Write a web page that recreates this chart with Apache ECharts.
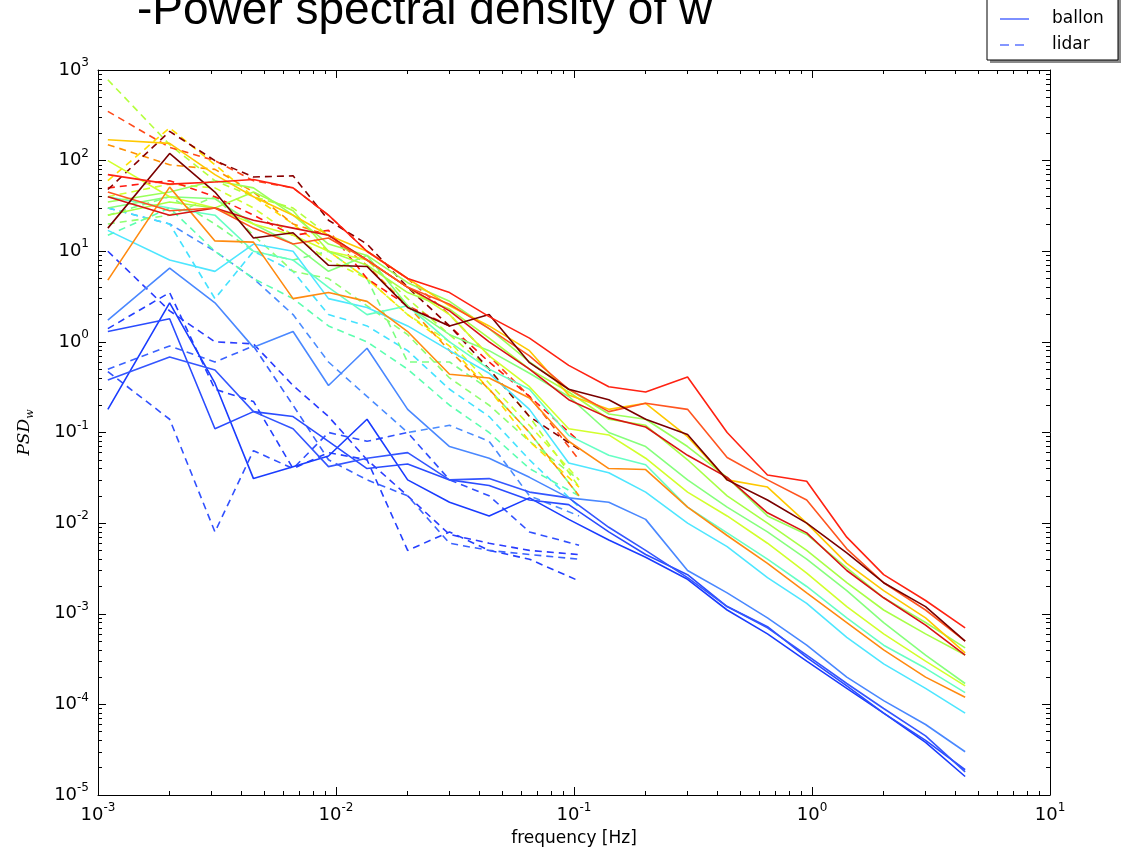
<!DOCTYPE html>
<html><head><meta charset="utf-8">
<script src="https://cdn.jsdelivr.net/npm/echarts@6/dist/echarts.min.js"></script>
<style>html,body{margin:0;padding:0;background:#fff}#c{width:1132px;height:853px}</style>
</head><body><div id="c"></div>
<script>
// ---------- frequencies ----------
const balloonFreq = [0.0011, 0.002, 0.0031, 0.0045, 0.0066, 0.0093, 0.0135, 0.02, 0.03, 0.044, 0.065, 0.095, 0.14, 0.2, 0.3, 0.44, 0.65, 0.95, 1.4, 2.0, 3.0, 4.4];
const lidarFreq = [0.0011, 0.002, 0.0031, 0.0045, 0.0066, 0.0093, 0.0135, 0.02, 0.03, 0.044, 0.065, 0.105];

// ---------- balloon PSD (solid) ----------
const bRed      = [70, 55, 58, 62, 50, 25, 10, 5, 3.5, 1.9, 1.1, 0.55, 0.32, 0.28, 0.41, 0.1, 0.034, 0.029, 0.007, 0.0027, 0.0014, 0.0007];
const bOrangeRed= [45, 28, 30, 18, 12, 14, 8, 4, 2.6, 1.4, 0.7, 0.3, 0.17, 0.21, 0.18, 0.053, 0.03, 0.018, 0.0052, 0.0022, 0.0011, 0.0005];
const bDarkRed  = [18, 120, 45, 14, 16, 7, 6.8, 2.4, 1.5, 2.0, 0.59, 0.3, 0.23, 0.14, 0.095, 0.030, 0.018, 0.01, 0.0047, 0.0022, 0.0012, 0.0005];
const bCrimson  = [40, 25, 30, 22, 18, 15, 8, 4, 2.2, 1.0, 0.5, 0.23, 0.145, 0.115, 0.056, 0.032, 0.013, 0.0078, 0.003, 0.0015, 0.00075, 0.00035];
const bYellow   = [170, 155, 70, 40, 25, 15, 10, 5, 2.5, 1.5, 0.8, 0.26, 0.18, 0.21, 0.09, 0.03, 0.025, 0.01, 0.0036, 0.0018, 0.0009, 0.00037];
const bOrange   = [4.8, 51, 13, 12.6, 3.0, 3.5, 2.8, 1.3, 0.44, 0.40, 0.24, 0.08, 0.04, 0.039, 0.015, 0.0073, 0.0036, 0.0017, 0.0008, 0.0004, 0.0002, 0.00012];
const bYGreen   = [100, 40, 30, 20, 15, 10, 8, 4, 2, 0.7, 0.32, 0.11, 0.094, 0.052, 0.022, 0.012, 0.006, 0.0028, 0.0012, 0.0006, 0.0003, 0.00016];
const bGreen1   = [35, 45, 60, 50, 25, 12, 9, 4.5, 2.8, 1.4, 0.6, 0.3, 0.16, 0.14, 0.07, 0.032, 0.012, 0.0075, 0.0032, 0.0015, 0.0008, 0.00042];
const bGreen2   = [25, 35, 30, 45, 28, 10, 7, 3.5, 2.3, 1.1, 0.5, 0.28, 0.14, 0.12, 0.05, 0.02, 0.01, 0.005, 0.0022, 0.0011, 0.0006, 0.00035];
const bGreen3   = [30, 40, 38, 20, 12, 6, 9, 2.5, 1.2, 0.8, 0.45, 0.25, 0.1, 0.07, 0.03, 0.015, 0.008, 0.004, 0.0018, 0.0008, 0.00035, 0.00017];
const bAqua     = [40, 30, 25, 10, 8, 4, 2, 2.5, 1.0, 0.5, 0.3, 0.093, 0.056, 0.044, 0.015, 0.0078, 0.004, 0.002, 0.0009, 0.00045, 0.00025, 0.000135];
const bCyan     = [17, 8, 6, 12, 10, 3, 2.4, 1.5, 0.8, 0.45, 0.18, 0.046, 0.036, 0.022, 0.01, 0.0055, 0.0025, 0.0013, 0.00055, 0.00028, 0.00015, 0.00008];
const bLightBlue= [1.74, 6.5, 2.7, 0.87, 1.3, 0.33, 0.85, 0.18, 0.07, 0.052, 0.032, 0.019, 0.017, 0.011, 0.003, 0.0017, 0.0009, 0.00045, 0.0002, 0.00011, 0.00006, 0.00003];
const bBlue1    = [0.18, 2.7, 0.35, 0.031, 0.042, 0.055, 0.14, 0.03, 0.017, 0.012, 0.019, 0.011, 0.0065, 0.0042, 0.0024, 0.0011, 0.0006, 0.0003, 0.00015, 0.00008, 0.000038, 0.000016];
const bBlue2    = [1.3, 1.8, 0.11, 0.17, 0.15, 0.08, 0.04, 0.045, 0.03, 0.026, 0.018, 0.016, 0.008, 0.0045, 0.0027, 0.0012, 0.00072, 0.00033, 0.00016, 0.00008, 0.00004, 0.000019];
const bBlue3    = [0.38, 0.68, 0.49, 0.17, 0.11, 0.042, 0.052, 0.06, 0.03, 0.031, 0.022, 0.019, 0.009, 0.005, 0.0025, 0.0012, 0.0007, 0.00035, 0.00017, 0.00009, 0.000045, 0.000018];

// ---------- lidar PSD (dashed) ----------
const lLime      = [780, 150, 60, 40, 30, 15, 8, 3, 1.2, 0.5, 0.15, 0.025];
const lOrangeRed = [350, 140, 100, 60, 50, 25, 10, 5, 2, 0.7, 0.25, 0.05];
const lDarkRed   = [48, 210, 100, 66, 68, 22, 12, 4, 1.5, 0.5, 0.15, 0.065];
const lOrange    = [150, 90, 80, 45, 20, 15, 7, 2.5, 0.8, 0.3, 0.1, 0.02];
const lYellow    = [60, 230, 90, 40, 20, 10, 5, 2, 0.9, 0.3, 0.08, 0.025];
const lGreen     = [25, 40, 20, 10, 8, 10, 5, 0.6, 0.6, 0.3, 0.1, 0.02];
const lCyan      = [30, 20, 3, 10, 6, 2, 1.5, 0.8, 0.3, 0.15, 0.05, 0.015];
const lAqua      = [15, 30, 10, 5, 3, 1.5, 1, 0.5, 0.2, 0.1, 0.04, 0.02];
const lYGreen    = [40, 55, 50, 30, 15, 8, 5, 2, 1, 0.35, 0.12, 0.03];
const lRed       = [50, 60, 40, 25, 15, 17, 5, 2.5, 1.5, 0.6, 0.25, 0.08];
const lLightGreen= [20, 25, 40, 15, 6, 5, 2.5, 1.2, 0.4, 0.2, 0.08, 0.03];
const lBlue1     = [10, 2.2, 1.0, 0.95, 0.33, 0.15, 0.05, 0.02, 0.0075, 0.006, 0.005, 0.0045];
const lBlue2     = [1.4, 3.5, 0.3, 0.22, 0.04, 0.06, 0.05, 0.005, 0.008, 0.005, 0.004, 0.0023];
const lBlue3     = [0.47, 0.14, 0.008, 0.063, 0.04, 0.1, 0.08, 0.1, 0.03, 0.02, 0.008, 0.0057];
const lLightBlue = [30, 20, 10, 5, 2, 0.6, 0.25, 0.1, 0.12, 0.08, 0.02, 0.012];
const lBlue4     = [0.5, 0.9, 0.6, 0.9, 0.2, 0.05, 0.03, 0.02, 0.006, 0.005, 0.0045, 0.004];

// ---------- axis decades (tick labels are 10^exp) ----------
const xDecades = [-3, -2, -1, 0, 1];
const yDecades = [-5, -4, -3, -2, -1, 0, 1, 2, 3];

// ---------- styling (colours per series) ----------
const balloonSeries = [
  [bBlue1, '#1a3cff'], [bBlue2, '#2a4cff'], [bBlue3, '#3456ff'], [bLightBlue, '#4a88ff'],
  [bCyan, '#4ee6ff'], [bAqua, '#66ffc4'], [bGreen3, '#86ff7c'], [bYGreen, '#d2ff2c'],
  [bGreen2, '#a8ff46'], [bGreen1, '#9aff5a'], [bOrange, '#ff8a10'], [bYellow, '#ffc800'],
  [bCrimson, '#d81414'], [bOrangeRed, '#ff5520'], [bDarkRed, '#7a0000'], [bRed, '#ff2212']
];
const lidarSeries = [
  [lBlue1, '#2a3cff'], [lBlue2, '#2440ff'], [lBlue3, '#3050ff'], [lBlue4, '#3a62ff'], [lLightBlue, '#4a8cff'],
  [lCyan, '#44e2ff'], [lAqua, '#5cffb0'], [lGreen, '#7cff82'], [lLightGreen, '#90ff70'], [lLime, '#b4ff3c'],
  [lYGreen, '#d0ff30'], [lYellow, '#ffe000'], [lOrange, '#ff9000'], [lOrangeRed, '#ff4a1a'], [lRed, '#ff1a10'], [lDarkRed, '#8a0000']
];

const FONT = 'DejaVu Sans';
const series = [];
lidarSeries.forEach(([vals, color]) => {
  series.push({
    type: 'line', name: 'lidar', xAxisIndex: 0, yAxisIndex: 0, symbol: 'none', silent: true,
    data: vals.map((v, i) => [lidarFreq[i], v]),
    lineStyle: { color, width: 1.6, type: [7, 5] }
  });
});
balloonSeries.forEach(([vals, color]) => {
  series.push({
    type: 'line', name: 'ballon', xAxisIndex: 0, yAxisIndex: 0, symbol: 'none', silent: true,
    data: vals.map((v, i) => [balloonFreq[i], v]),
    lineStyle: { color, width: 1.6 }
  });
});

function minorTicks(decs) {
  const out = [];
  for (let d = decs[0]; d < decs[decs.length - 1]; d++)
    for (let k = 2; k < 10; k++) out.push(d + Math.log10(k));
  return out;
}
const supRich = {
  b: { fontSize: 18, fontFamily: FONT, color: '#000', lineHeight: 26 },
  s: { fontSize: 12, fontFamily: FONT, color: '#000', verticalAlign: 'top', lineHeight: 14 }
};
const fmt = v => '{b|10}{s|' + Math.round(Math.log10(v)) + '}';
const black = { color: '#000', width: 1 };

function majorAxis(pos, min, max, labels, extra) {
  return Object.assign({
    type: 'log', logBase: 10, min, max, position: pos, gridIndex: 0,
    axisLine: { show: true, onZero: false, lineStyle: black },
    axisTick: { show: true, inside: true, length: 8, lineStyle: black },
    axisLabel: labels ? { show: true, formatter: fmt, rich: supRich, margin: 8 } : { show: false },
    splitLine: { show: false }, minorTick: { show: false }
  }, extra || {});
}
function minorAxis(pos, decs) {
  return {
    type: 'value', min: decs[0], max: decs[decs.length - 1], position: pos, gridIndex: 1,
    axisLine: { show: false, onZero: false },
    axisTick: { show: true, inside: true, length: 4, lineStyle: black, customValues: minorTicks(decs) },
    axisLabel: { show: false }, splitLine: { show: false }
  };
}

const gridRect = { left: 98, right: 82, top: 70, bottom: 58 };
const option = {
  animation: false,
  backgroundColor: '#fff',
  grid: [Object.assign({}, gridRect), Object.assign({}, gridRect)],
  xAxis: [
    majorAxis('bottom', 1e-3, 10, true, {
      name: 'frequency [Hz]', nameLocation: 'middle', nameGap: 35,
      nameTextStyle: { fontFamily: FONT, fontSize: 17, color: '#000' },
      axisLabel: { show: true, formatter: fmt, rich: supRich, margin: 7 }
    }),
    majorAxis('top', 1e-3, 10, false),
    minorAxis('bottom', xDecades),
    minorAxis('top', xDecades)
  ],
  yAxis: [
    majorAxis('left', 1e-5, 1e3, true, {
      name: '{i|PSD}{w|w}', nameLocation: 'middle', nameGap: 62, nameRotate: 90,
      nameTextStyle: { rich: {
        i: { fontFamily: 'DejaVu Serif', fontStyle: 'italic', fontSize: 17, color: '#000', lineHeight: 22 },
        w: { fontFamily: 'DejaVu Serif', fontStyle: 'italic', fontSize: 11, color: '#000', verticalAlign: 'bottom', lineHeight: 14 }
      } },
      axisLabel: { show: true, formatter: fmt, rich: supRich, margin: 9 }
    }),
    majorAxis('right', 1e-5, 1e3, false),
    minorAxis('left', yDecades),
    minorAxis('right', yDecades)
  ],
  graphic: [
    { type: 'text', x: 137, y: 11, silent: true,
      style: { text: '-Power spectral density of w', font: '46px "Liberation Sans"', fill: '#000', verticalAlign: 'middle' } },
    { type: 'rect', silent: true, shape: { x: 990, y: -10, width: 131, height: 73 }, style: { fill: '#8a8a8a' }, z: 10 },
    { type: 'rect', silent: true, shape: { x: 987, y: -12, width: 131, height: 72 }, style: { fill: '#fff', stroke: '#000', lineWidth: 1 }, z: 11 },
    { type: 'line', silent: true, shape: { x1: 1000, y1: 19, x2: 1029, y2: 19 }, style: { stroke: '#5c74ff', lineWidth: 1.6 }, z: 12 },
    { type: 'line', silent: true, shape: { x1: 1000, y1: 45, x2: 1029, y2: 45 }, style: { stroke: '#5c74ff', lineWidth: 1.6, lineDash: [9, 6] }, z: 12 },
    { type: 'text', silent: true, x: 1052, y: 19, style: { text: 'ballon', font: '17px "DejaVu Sans"', fill: '#000', verticalAlign: 'middle' }, z: 12 },
    { type: 'text', silent: true, x: 1052, y: 45, style: { text: 'lidar', font: '17px "DejaVu Sans"', fill: '#000', verticalAlign: 'middle' }, z: 12 }
  ],
  series
};
const chart = echarts.init(document.getElementById('c'), null, { renderer: 'canvas' });
chart.setOption(option);
</script>
</body></html>
